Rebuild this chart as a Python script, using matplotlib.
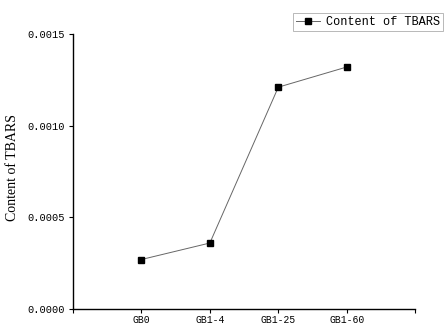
import numpy as np
import matplotlib
matplotlib.use('Agg')
import matplotlib.pyplot as plt

samples = ['GB0', 'GB1-4', 'GB1-25', 'GB1-60']
tbars = [0.00027, 0.00036, 0.00121, 0.00132]
y_ticks = [0.0, 0.0005, 0.0010, 0.0015]

fig = plt.figure(figsize=(4.45, 3.27), dpi=100)
ax = fig.add_axes([0.164, 0.055, 0.769, 0.841])

x = np.arange(1, len(samples) + 1)
ax.plot(x, tbars, color='#666666', linewidth=0.7, marker='s', markersize=5,
        markerfacecolor='black', markeredgecolor='black', label='Content of TBARS')

ax.set_xlim(0, 5)
ax.set_ylim(0, 0.0015)
ax.set_xticks([0, 1, 2, 3, 4, 5])
ax.set_xticklabels(['', 'GB0', 'GB1-4', 'GB1-25', 'GB1-60', ''],
                   family='Liberation Mono', fontsize=7)
ax.set_yticks(y_ticks)
ax.set_yticklabels(['%.4f' % v for v in y_ticks], family='Liberation Mono', fontsize=7.5)
ax.tick_params(direction='out', length=3, width=0.8)
ax.tick_params(axis='x', pad=1)
ax.tick_params(axis='y', pad=3)

for s in ['top', 'right']:
    ax.spines[s].set_visible(False)
for s in ['left', 'bottom']:
    ax.spines[s].set_linewidth(1.0)

ax.set_ylabel('Content of TBARS', family='Liberation Serif', fontsize=10)
ax.yaxis.set_label_coords(-0.158, 0.515)

leg = ax.legend(loc='upper left', bbox_to_anchor=(0.643, 1.075), frameon=True,
                fancybox=False, edgecolor='#999999', handlelength=2.0,
                handletextpad=0.5, borderaxespad=0, markerscale=0.9,
                prop={'family': 'Liberation Mono', 'size': 8.6}, borderpad=0.25)
leg.get_frame().set_linewidth(0.6)

fig.savefig('out.png', dpi=100)
